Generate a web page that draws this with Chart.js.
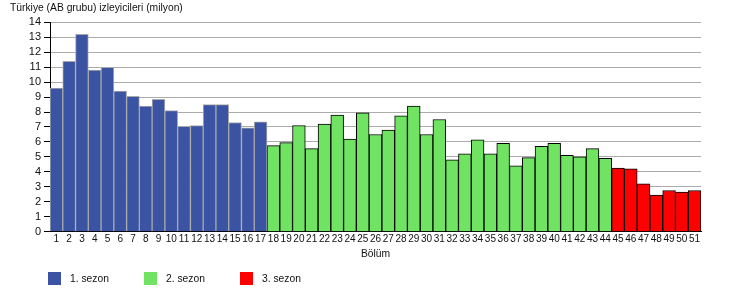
<!DOCTYPE html>
<html>
<head>
<meta charset="utf-8">
<script src="https://cdn.jsdelivr.net/npm/chart.js@4/dist/chart.umd.min.js"></script>
<style>
  html, body { margin: 0; padding: 0; background: #fff; }
  #wrap { width: 750px; height: 300px; position: relative; }
</style>
</head>
<body>
<div id="wrap"><canvas id="c" width="750" height="300"></canvas></div>
<script>
const episodes = ['1','2','3','4','5','6','7','8','9','10','11','12','13','14','15','16','17',
  '18','19','20','21','22','23','24','25','26','27','28','29','30','31','32','33','34','35',
  '36','37','38','39','40','41','42','43','44','45','46','47','48','49','50','51'];
const season1 = [9.6, 11.4, 13.2, 10.8, 11.0, 9.4, 9.05, 8.4, 8.85, 8.1, 7.05, 7.1, 8.5, 8.5, 7.3, 6.95, 7.35];
const season2 = [5.75, 5.95, 7.1, 5.55, 7.2, 7.8, 6.2, 7.95, 6.5, 6.8, 7.75, 8.4, 6.5, 7.5, 4.8,
  5.2, 6.15, 5.2, 5.9, 4.4, 4.95, 5.7, 5.9, 5.1, 5.0, 5.55, 4.9];
const season3 = [4.25, 4.2, 3.2, 2.45, 2.75, 2.65, 2.75];
const seasonNames = ['1. sezon', '2. sezon', '3. sezon'];
const yTicks = [0,1,2,3,4,5,6,7,8,9,10,11,12,13,14];

const n1 = season1.length, n2 = season2.length, n3 = season3.length;
const d1 = season1.concat(new Array(n2 + n3).fill(null));
const d2 = new Array(n1).fill(null).concat(season2, new Array(n3).fill(null));
const d3 = new Array(n1 + n2).fill(null).concat(season3);

const FONT = 'Liberation Sans, Arial, Helvetica, sans-serif';

const legendPlugin = {
  id: 'customLegend',
  afterDraw(chart) {
    const ctx = chart.ctx;
    ctx.save();
    ctx.font = '10.3px ' + FONT;
    ctx.textBaseline = 'middle';
    chart.data.datasets.forEach((ds, i) => {
      const x = 48 + i * 96;
      ctx.fillStyle = ds.backgroundColor;
      ctx.fillRect(x, 272, 13, 13);
      ctx.fillStyle = '#111';
      ctx.fillText(ds.label, x + 22, 279);
    });
    ctx.restore();
  }
};

new Chart(document.getElementById('c'), {
  type: 'bar',
  data: {
    labels: episodes,
    datasets: [
      { label: seasonNames[0], data: d1, backgroundColor: '#3a53a3', borderColor: '#a8a8a8', borderWidth: 1, grouped: false, barPercentage: 1, categoryPercentage: 1 },
      { label: seasonNames[1], data: d2, backgroundColor: '#70e462', borderColor: '#000000', borderWidth: 1, grouped: false, barPercentage: 1, categoryPercentage: 1 },
      { label: seasonNames[2], data: d3, backgroundColor: '#ff0000', borderColor: '#000000', borderWidth: 1, grouped: false, barPercentage: 1, categoryPercentage: 1 }
    ]
  },
  options: {
    responsive: false,
    animation: false,
    layout: { padding: { left: 10, right: 49, top: 0, bottom: 39 } },
    plugins: {
      legend: { display: false },
      tooltip: { enabled: false },
      title: {
        display: true,
        text: 'Türkiye (AB grubu) izleyicileri (milyon)',
        align: 'start',
        color: '#111',
        font: { family: FONT, size: 10.3, weight: 'normal', lineHeight: 1.2 },
        padding: { top: 2, bottom: 8 }
      }
    },
    scales: {
      x: {
        grid: { display: false, drawTicks: false },
        border: { display: true, color: '#000', width: 1 },
        ticks: { autoSkip: false, maxRotation: 0, minRotation: 0, padding: 2, color: '#111', font: { family: FONT, size: 10 } },
        title: { display: true, text: 'Bölüm', color: '#111', font: { family: FONT, size: 10.3 }, padding: { top: 0, bottom: 1 } }
      },
      y: {
        min: 0, max: 14,
        afterBuildTicks(scale) { scale.ticks = yTicks.map(v => ({ value: v })); },
        afterFit(scale) { scale.width = 40; },
        grid: { color: '#ababab', tickColor: '#000', tickLength: 6, drawTicks: true },
        border: { display: true, color: '#000', width: 1 },
        ticks: { autoSkip: false, stepSize: 1, padding: 3, color: '#111', font: { family: FONT, size: 11 } }
      }
    }
  },
  plugins: [legendPlugin]
});
</script>
</body>
</html>
